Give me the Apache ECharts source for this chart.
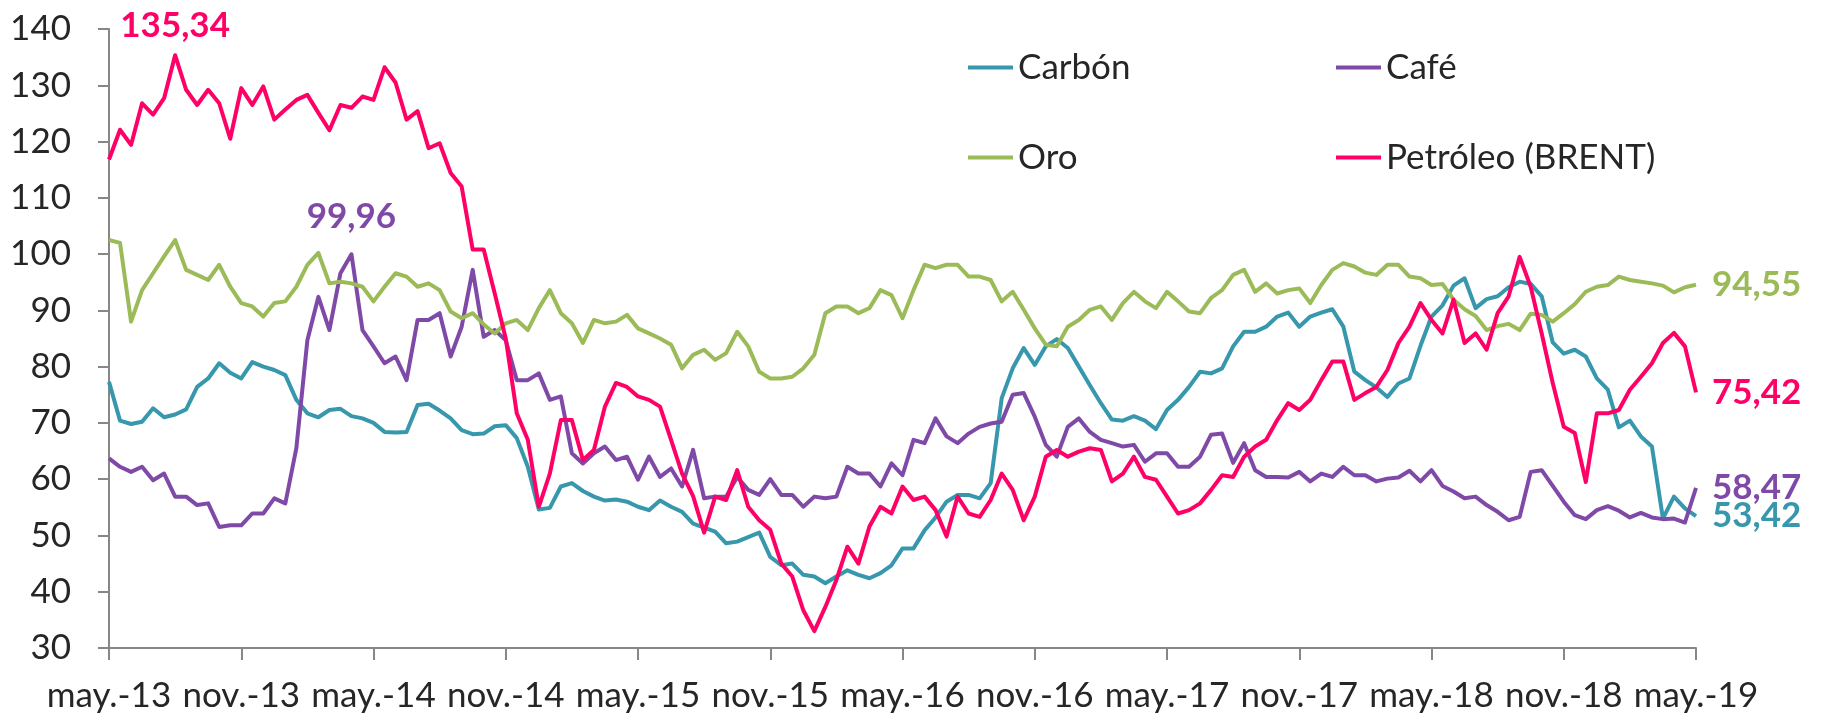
<!DOCTYPE html>
<html>
<head>
<meta charset="utf-8">
<script src="https://cdn.jsdelivr.net/npm/echarts@6/dist/echarts.min.js"></script>
<style>
  html, body { margin: 0; padding: 0; background: #fff; }
  #chart { width: 1822px; height: 720px; }
</style>
</head>
<body>
<div id="chart"></div>
<script>
// eje: un punto cada quincena, de may.-13 a may.-19
const tickLabels = ['may.-13', 'nov.-13', 'may.-14', 'nov.-14', 'may.-15', 'nov.-15', 'may.-16',
  'nov.-16', 'may.-17', 'nov.-17', 'may.-18', 'nov.-18', 'may.-19']

const categories = []
for (let k = 0; k <= 144; k++) {
  const m = 4 + Math.floor(k / 2)
  const y = 2013 + Math.floor(m / 12)
  const mm = String(m % 12 + 1).padStart(2, '0')
  categories.push(y + '-' + mm + (k % 2 ? '-16' : '-01'))
}

const carbon = [
  77.3, 70.4, 69.8, 70.2, 72.6, 71.0, 71.5, 72.4, 76.4, 77.9,
  80.6, 78.9, 77.9, 80.8, 80.0, 79.4, 78.5, 74.1, 71.7, 71.0,
  72.3, 72.5, 71.2, 70.8, 70.0, 68.4, 68.3, 68.4, 73.2, 73.4,
  72.2, 70.8, 68.7, 68.0, 68.1, 69.4, 69.6, 67.3, 62.2, 54.6,
  54.9, 58.7, 59.3, 57.9, 56.9, 56.2, 56.4, 56.0, 55.1, 54.5,
  56.2, 55.1, 54.2, 52.1, 51.4, 50.7, 48.6, 48.9, 49.7, 50.5,
  46.2, 44.7, 45.0, 43.0, 42.7, 41.5, 42.7, 43.8, 43.0, 42.4,
  43.3, 44.7, 47.7, 47.7, 50.9, 53.2, 56.0, 57.2, 57.2, 56.6,
  59.3, 74.4, 79.7, 83.3, 80.3, 83.6, 84.9, 83.3, 80.0, 76.7,
  73.5, 70.6, 70.4, 71.2, 70.4, 68.9, 72.3, 74.1, 76.4, 79.1,
  78.8, 79.7, 83.6, 86.2, 86.2, 87.1, 88.9, 89.6, 87.1, 88.9,
  89.6, 90.2, 87.1, 79.1, 77.6, 76.3, 74.6, 77.0, 77.9, 83.7,
  88.9, 90.9, 94.4, 95.7, 90.4, 92.0, 92.5, 94.1, 95.1, 94.7,
  92.5, 84.3, 82.3, 83.0, 81.8, 77.9, 75.9, 69.2, 70.4, 67.6,
  65.8, 53.0, 56.9, 54.8, 53.42
]

const cafe = [
  63.7, 62.2, 61.3, 62.2, 59.8, 61.0, 56.9, 56.9, 55.4, 55.7,
  51.5, 51.8, 51.8, 53.9, 53.9, 56.6, 55.7, 65.5, 84.7, 92.4,
  86.5, 96.6, 99.96, 86.5, 83.6, 80.6, 81.8, 77.6, 88.3, 88.3,
  89.5, 81.8, 87.1, 97.2, 85.3, 86.5, 84.7, 77.6, 77.6, 78.8,
  74.1, 74.7, 64.6, 62.8, 64.6, 65.8, 63.4, 64.0, 59.9, 64.0,
  60.4, 61.9, 58.7, 65.2, 56.6, 56.9, 56.9, 60.4, 58.1, 57.2,
  60.0, 57.2, 57.2, 55.1, 56.9, 56.6, 56.9, 62.2, 61.0, 61.0,
  58.7, 62.8, 60.7, 67.0, 66.4, 70.8, 67.6, 66.4, 68.1, 69.3,
  69.9, 70.2, 75.0, 75.3, 71.1, 66.1, 64.0, 69.3, 70.8, 68.4,
  67.0, 66.4, 65.8, 66.1, 63.1, 64.6, 64.6, 62.2, 62.2, 64.0,
  67.9, 68.1, 62.9, 66.4, 61.6, 60.4, 60.4, 60.3, 61.3, 59.6,
  61.0, 60.4, 62.2, 60.7, 60.7, 59.6, 60.1, 60.3, 61.5, 59.6,
  61.6, 58.8, 57.8, 56.6, 56.9, 55.4, 54.2, 52.7, 53.3, 61.3,
  61.6, 58.8, 56.0, 53.6, 52.9, 54.5, 55.2, 54.4, 53.2, 54.0,
  53.2, 52.9, 53.0, 52.3, 58.47
]

const oro = [
  102.5, 102.0, 88.0, 93.6, 96.6, 99.6, 102.5, 97.2, 96.3, 95.4,
  98.1, 94.2, 91.3, 90.7, 88.9, 91.3, 91.6, 94.2, 98.1, 100.2,
  94.8, 95.1, 94.8, 94.2, 91.6, 94.2, 96.6, 96.0, 94.2, 94.8,
  93.6, 89.8, 88.6, 89.5, 87.5, 85.9, 87.7, 88.3, 86.5, 90.4,
  93.6, 89.5, 87.7, 84.2, 88.3, 87.7, 88.0, 89.2, 86.8, 85.9,
  85.0, 83.9, 79.7, 82.1, 83.0, 81.2, 82.4, 86.2, 83.6, 79.1,
  77.9, 77.9, 78.2, 79.7, 82.1, 89.5, 90.7, 90.7, 89.5, 90.4,
  93.6, 92.7, 88.6, 93.6, 98.1, 97.5, 98.1, 98.1, 96.0, 96.0,
  95.4, 91.6, 93.3, 90.1, 86.8, 83.9, 83.6, 87.1, 88.3, 90.1,
  90.7, 88.3, 91.3, 93.3, 91.6, 90.4, 93.3, 91.6, 89.8, 89.5,
  92.2, 93.6, 96.3, 97.2, 93.3, 94.8, 93.0, 93.6, 93.9, 91.3,
  94.5, 97.2, 98.4, 97.8, 96.7, 96.3, 98.1, 98.1, 96.0, 95.7,
  94.5, 94.7, 91.9, 90.2, 89.0, 86.5, 87.2, 87.6, 86.5, 89.4,
  89.2, 88.0, 89.5, 91.1, 93.3, 94.2, 94.5, 96.0, 95.4, 95.1,
  94.8, 94.4, 93.2, 94.1, 94.55
]

const brent = [
  116.8, 122.1, 119.4, 126.8, 124.8, 127.7, 135.34, 129.2, 126.5, 129.2,
  126.8, 120.5, 129.5, 126.5, 129.8, 123.9, 125.7, 127.4, 128.3, 125.1,
  122.0, 126.5, 126.0, 128.0, 127.4, 133.2, 130.5, 123.9, 125.4, 118.8,
  119.7, 114.4, 112.0, 100.8, 100.8, 93.0, 85.0, 71.7, 67.0, 55.1,
  61.0, 70.5, 70.5, 63.4, 65.2, 72.9, 77.1, 76.4, 74.7, 74.1,
  72.9, 67.0, 61.0, 57.0, 50.5, 56.9, 56.3, 61.6, 55.1, 52.7,
  51.0, 45.0, 42.7, 36.7, 33.0, 37.3, 42.1, 48.0, 45.0, 51.6,
  55.1, 53.9, 58.7, 56.3, 56.9, 54.5, 49.8, 56.9, 53.9, 53.3,
  56.3, 61.0, 58.1, 52.7, 56.9, 64.0, 65.2, 64.0, 64.9, 65.5,
  65.2, 59.6, 61.0, 64.0, 60.4, 59.9, 56.9, 53.9, 54.5, 55.7,
  58.1, 60.7, 60.4, 64.0, 65.8, 67.0, 70.5, 73.5, 72.3, 74.1,
  77.6, 80.9, 80.9, 74.1, 75.3, 76.4, 79.4, 84.2, 87.1, 91.3,
  88.3, 85.9, 91.9, 84.2, 85.9, 83.0, 89.5, 92.5, 99.5, 94.2,
  85.9, 77.1, 69.3, 68.2, 59.5, 71.7, 71.7, 72.3, 75.9, 78.2,
  80.6, 84.2, 86.0, 83.6, 75.42
]

const FONT = 'Lato'
const TXT = '#262626'
const AXIS = '#878787'

const colors = {
  'Carbón': '#3797ac',
  'Café': '#7f4aa7',
  'Oro': '#9bbb59',
  'Petróleo (BRENT)': '#ff0066'
}

function fmt(v) {
  return Number(v).toFixed(2).replace('.', ',')
}

function makeSeries(name, data, withMax) {
  const c = colors[name]
  const s = {
    name: name,
    type: 'line',
    data: data,
    showSymbol: false,
    symbol: 'none',
    lineStyle: { color: c, width: 4, join: 'round' },
    itemStyle: { color: c },
    endLabel: {
      show: true,
      distance: 16,
      formatter: p => fmt(p.value),
      color: c,
      fontFamily: FONT,
      fontWeight: 'bold',
      fontSize: 35
    },
    emphasis: { disabled: true },
    animation: false
  }
  if (withMax) {
    s.markPoint = {
      symbol: 'circle',
      symbolSize: 1,
      itemStyle: { color: 'rgba(0,0,0,0)' },
      data: [{ type: 'max' }],
      label: {
        show: true,
        position: 'top',
        distance: withMax,
        formatter: p => fmt(p.value),
        color: c,
        fontFamily: FONT,
        fontWeight: 'bold',
        fontSize: 35
      }
    }
  }
  return s
}

function legendAt(name, left, top) {
  return {
    data: [name],
    left: left,
    top: top,
    icon: 'rect',
    itemWidth: 45,
    itemHeight: 4,
    selectedMode: false,
    textStyle: { color: TXT, fontFamily: FONT, fontSize: 35 }
  }
}

const chart = echarts.init(document.getElementById('chart'))
chart.setOption({
  backgroundColor: '#fff',
  animation: false,
  grid: { left: 109, right: 126, top: 29, bottom: 72, outerBoundsMode: 'none' },
  legend: [
    legendAt('Carbón', 963, 45),
    legendAt('Café', 1331, 45),
    legendAt('Oro', 963, 135),
    legendAt('Petróleo (BRENT)', 1331, 135)
  ],
  xAxis: {
    type: 'category',
    data: categories,
    boundaryGap: false,
    axisLine: { lineStyle: { color: AXIS, width: 2 } },
    axisTick: {
      interval: (i) => i % 12 === 0,
      length: 12,
      lineStyle: { color: AXIS, width: 2 }
    },
    axisLabel: {
      interval: (i) => i % 12 === 0,
      formatter: (v, i) => tickLabels[i / 12],
      margin: 30,
      color: TXT,
      fontFamily: FONT,
      fontSize: 35
    },
    splitLine: { show: false }
  },
  yAxis: {
    type: 'value',
    min: 30,
    max: 140,
    interval: 10,
    axisLine: { show: true, lineStyle: { color: AXIS, width: 2 } },
    axisTick: { show: true, length: 11, lineStyle: { color: AXIS, width: 2 } },
    axisLabel: { margin: 38, color: TXT, fontFamily: FONT, fontSize: 35 },
    splitLine: { show: false }
  },
  series: [
    makeSeries('Carbón', carbon, 0),
    makeSeries('Café', cafe, 20),
    makeSeries('Oro', oro, 0),
    makeSeries('Petróleo (BRENT)', brent, 12)
  ]
})
</script>
</body>
</html>
